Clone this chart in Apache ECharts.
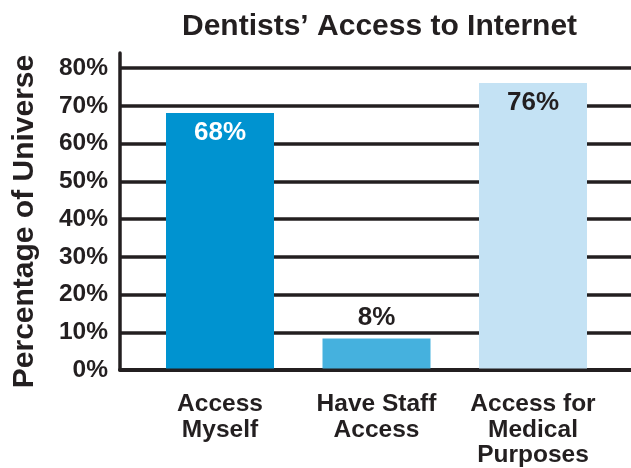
<!DOCTYPE html>
<html>
<head>
<meta charset="utf-8">
<style>
  html, body { margin: 0; padding: 0; background: #ffffff; }
  #chart { width: 631px; height: 468px; }
</style>
<script src="https://cdn.jsdelivr.net/npm/echarts@6/dist/echarts.min.js"></script>
</head>
<body>
<div id="chart"></div>
<script>
// Survey results: share of dentists with internet access
const categories = ['Access\nMyself', 'Have Staff\nAccess', 'Access for\nMedical\nPurposes'];
const values = [68, 8, 76];
const barColors = ['#0093d0', '#45b1de', '#c4e2f4'];
const labelColors = ['#ffffff', '#231f20', '#231f20'];
const labelPositions = ['insideTop', 'top', 'insideTop'];
const yTicks = [0, 10, 20, 30, 40, 50, 60, 70, 80];

const ink = '#231f20';
const font = "'Liberation Sans', Arial, Helvetica, sans-serif";
const yMax = 84;

const chart = echarts.init(document.getElementById('chart'), null, { renderer: 'canvas' });

chart.setOption({
  backgroundColor: '#ffffff',
  animation: false,
  title: {
    text: 'Dentists’ Access to Internet',
    left: 177,
    top: 7,
    textStyle: { fontFamily: font, fontWeight: 'bold', fontSize: 30, color: ink }
  },
  grid: [
    // frame grid: axis line, gridlines and tick labels across the full width
    { left: 120, right: 0, top: 53, bottom: 98 },
    // bar grid
    { left: 141.75, right: 19.75, top: 53, bottom: 98 }
  ],
  xAxis: [
    {
      gridIndex: 0, type: 'value', min: 0, max: 1,
      axisLine: { show: true, lineStyle: { color: ink, width: 4 } },
      axisTick: { show: false }, axisLabel: { show: false }, splitLine: { show: false }
    },
    {
      gridIndex: 1, type: 'category', data: categories,
      axisLine: { show: false }, axisTick: { show: false },
      axisLabel: {
        interval: 0, margin: 23,
        fontFamily: font, fontWeight: 'bold', fontSize: 24.5, lineHeight: 25.5, color: ink
      }
    }
  ],
  yAxis: [
    {
      gridIndex: 0, type: 'value', min: 0, max: yMax, interval: 10,
      name: 'Percentage of Universe',
      nameLocation: 'middle', nameGap: 80,
      nameTextStyle: {
        fontFamily: font, fontWeight: 'bold', fontSize: 30, color: ink,
        padding: [0, 20, 0, 0]
      },
      axisLine: { show: true, lineStyle: { color: ink, width: 3.5 } },
      axisTick: { show: false },
      axisLabel: {
        margin: 12, showMaxLabel: false,
        fontFamily: font, fontWeight: 'bold', fontSize: 24.5, color: ink,
        formatter: v => (yTicks.indexOf(v) >= 0 ? v + '%' : '')
      },
      splitLine: { show: true, showMaxLine: false, lineStyle: { color: ink, width: 3.5 } }
    },
    {
      gridIndex: 1, type: 'value', min: 0, max: yMax, interval: 10,
      axisLine: { show: false }, axisTick: { show: false },
      axisLabel: { show: false }, splitLine: { show: false }
    }
  ],
  series: [
    {
      type: 'bar',
      xAxisIndex: 1, yAxisIndex: 1,
      barWidth: 108,
      data: values.map((v, i) => ({
        value: v,
        itemStyle: { color: barColors[i] },
        label: {
          show: true,
          position: labelPositions[i],
          distance: labelPositions[i] === 'top' ? 8 : 7,
          formatter: '{c}%',
          fontFamily: font, fontWeight: 'bold', fontSize: 26, lineHeight: 25,
          color: labelColors[i]
        }
      }))
    }
  ]
});
</script>
</body>
</html>
